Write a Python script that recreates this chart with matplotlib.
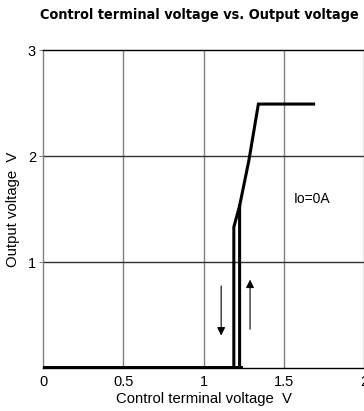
import matplotlib
matplotlib.use("Agg")
import matplotlib.pyplot as plt

# Données lues sur le graphique
# montée (tension croissante)
x_montee = [0.0, 1.225, 1.225, 1.283, 1.342, 1.686]
y_montee = [0.0, 0.0, 1.53, 1.96, 2.49, 2.49]
# descente (tension décroissante)
x_descente = [1.189, 1.189, 1.225]
y_descente = [0.0, 1.33, 1.53]

x_ticks = [0, 0.5, 1, 1.5, 2]
x_labels = ["0", "0.5", "1", "1.5", "2"]
y_ticks = [1, 2, 3]

plt.rcParams['font.family'] = ['Liberation Sans', 'DejaVu Sans']

fig = plt.figure(figsize=(3.64, 4.11), dpi=100)
ax = fig.add_axes([43 / 364, 1 - 368 / 411, 1 - 43 / 364, (368 - 50) / 411])

ax.set_xlim(0, 2)
ax.set_ylim(0, 3)

# grille
for xv in [0.5, 1, 1.5]:
    ax.axvline(xv, color="#808080", lw=1.0, zorder=1)
for yv in [1, 2]:
    ax.axhline(yv, color="#303030", lw=1.0, zorder=1)

ax.plot(x_montee, y_montee, color="black", lw=2.2, zorder=3, solid_joinstyle="miter")
ax.plot(x_descente, y_descente, color="black", lw=2.2, zorder=3, solid_joinstyle="miter")
ax.plot([0, 1.225], [0, 0], color="black", lw=3.5, zorder=3)

# flèches
ax.annotate("", xy=(1.11, 0.28), xytext=(1.11, 0.80),
            arrowprops=dict(arrowstyle="-|>", color="black", lw=0.8,
                            mutation_scale=12))
ax.annotate("", xy=(1.29, 0.86), xytext=(1.29, 0.34),
            arrowprops=dict(arrowstyle="-|>", color="black", lw=0.8,
                            mutation_scale=12))

ax.text(1.56, 1.59, "Io=0A", fontsize=10, va="center", ha="left")

ax.set_xticks(x_ticks)
ax.set_xticklabels(x_labels, fontsize=10.5)
ax.set_yticks(y_ticks)
ax.set_yticklabels([str(v) for v in y_ticks], fontsize=10.5)
ax.tick_params(axis="x", length=0, pad=5)
ax.tick_params(axis="y", length=3, width=0.8, color="#808080", pad=2)

ax.spines["left"].set_color("#808080")
ax.spines["top"].set_color("black")
ax.spines["bottom"].set_color("black")
ax.spines["right"].set_color("#808080")
for s in ax.spines.values():
    s.set_linewidth(1.0)

ax.set_xlabel("Control terminal voltage  V", fontsize=10.7, labelpad=2)
ax.set_ylabel("Output voltage  V", fontsize=10.7, labelpad=6)

fig.text(0.549, 0.963, "Control terminal voltage vs. Output voltage",
         fontsize=10.4, fontweight="bold", fontstretch="condensed",
         ha="center", va="center",
         family=["DejaVu Sans"])

fig.savefig("out.png", dpi=100)
